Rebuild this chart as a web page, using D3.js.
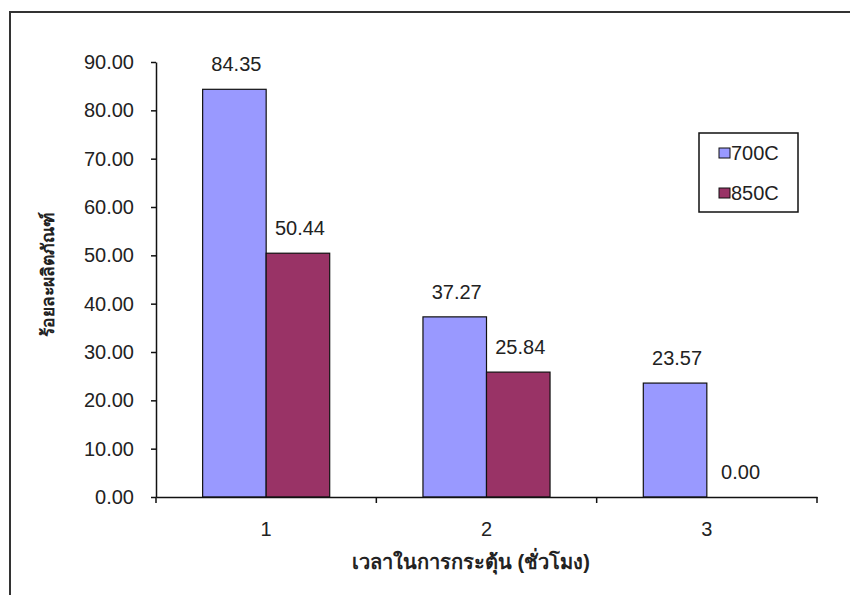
<!DOCTYPE html>
<html>
<head>
<meta charset="utf-8">
<script src="https://cdn.jsdelivr.net/npm/d3@7"></script>
<style>
  html, body { margin: 0; padding: 0; background: #fff; }
  svg { display: block; }
  text { font-family: "Liberation Sans", Arial, sans-serif; fill: #222; }
</style>
</head>
<body>
<svg id="chart" width="850" height="595"></svg>
<script>
// ---- data ----
const categories = ["1", "2", "3"];
const seriesNames = ["700C", "850C"];
const values700 = [84.35, 37.27, 23.57];
const values850 = [50.44, 25.84, 0.00];
const yTicks = [0, 10, 20, 30, 40, 50, 60, 70, 80, 90];
const xTitle = "เวลาในการกระตุ้น (ชั่วโมง)";
const yTitle = "ร้อยละผลิตภัณฑ์";
const colors = ["#9999FF", "#993366"];

const seriesValues = [values700, values850];
const rows = categories.map((c, i) => ({ cat: c, vals: seriesNames.map((s, j) => ({ s, v: seriesValues[j][i] })) }));

const svg = d3.select("#chart");
const plotLeft = 156, plotRight = 817, plotTop = 62, plotBottom = 497;

// outer frame
svg.append("rect").attr("x", 10).attr("y", 12).attr("width", 860).attr("height", 600)
  .attr("fill", "none").attr("stroke", "#333").attr("stroke-width", 2);

const x = d3.scaleBand().domain(categories).range([plotLeft, plotRight]).padding(0);
const xs = d3.scaleBand().domain(seriesNames).range([0, x.bandwidth()]).paddingInner(0).paddingOuter(0.734);
const y = d3.scaleLinear().domain([0, 90]).range([plotBottom, plotTop]);
const color = d3.scaleOrdinal().domain(seriesNames).range(colors);

// bars
const g = svg.append("g");
const groups = g.selectAll("g.grp").data(rows).join("g").attr("class", "grp")
  .attr("transform", d => `translate(${x(d.cat)},0)`);
groups.selectAll("rect").data(d => d.vals).join("rect")
  .attr("x", d => xs(d.s))
  .attr("y", d => y(d.v))
  .attr("width", xs.bandwidth())
  .attr("height", d => y(0) - y(d.v))
  .attr("fill", d => color(d.s))
  .attr("stroke", d => d.v > 0 ? "#111" : "none")
  .attr("stroke-width", 1.2);
groups.selectAll("text.val").data(d => d.vals).join("text").attr("class", "val")
  .attr("x", d => xs(d.s) + xs.bandwidth() / 2 + 2)
  .attr("y", d => y(d.v) - 18)
  .attr("text-anchor", "middle")
  .attr("font-size", 20)
  .text(d => d3.format(".2f")(d.v));

// y axis
const yAxis = d3.axisLeft(y).tickValues(yTicks).tickFormat(d3.format(".2f")).tickSize(5).tickSizeOuter(0).tickPadding(17);
const yg = svg.append("g").attr("transform", `translate(${plotLeft},0)`).call(yAxis);
yg.selectAll("path,line").attr("stroke", "#111").attr("stroke-width", 1.5);
yg.selectAll("text").attr("font-size", 20).attr("font-family", "Liberation Sans, Arial, sans-serif").attr("fill", "#222");

// x axis
const xAxis = d3.axisBottom(x).tickSize(0).tickSizeOuter(0).tickPadding(25);
const xg = svg.append("g").attr("transform", `translate(0,${plotBottom})`).call(xAxis);
xg.selectAll("path").attr("stroke", "#111").attr("stroke-width", 1.5);
xg.selectAll("text").attr("font-size", 20).attr("font-family", "Liberation Sans, Arial, sans-serif").attr("fill", "#222");
const bounds = categories.map(c => x(c)).concat([x(categories[categories.length - 1]) + x.bandwidth()]);
xg.selectAll("line.bound").data(bounds).join("line").attr("class", "bound")
  .attr("x1", d => d).attr("x2", d => d).attr("y1", 0).attr("y2", 6)
  .attr("stroke", "#111").attr("stroke-width", 1.5);

// axis titles
svg.append("text").attr("x", 471).attr("y", 569).attr("text-anchor", "middle")
  .attr("font-size", 20).attr("font-weight", "bold").text(xTitle);
svg.append("text").attr("transform", "translate(54,274) rotate(-90)").attr("text-anchor", "middle")
  .attr("font-size", 17.5).attr("font-weight", "bold").text(yTitle);

// legend
const lg = svg.append("g");
lg.append("rect").attr("x", 699).attr("y", 133).attr("width", 99).attr("height", 79)
  .attr("fill", "#fff").attr("stroke", "#111").attr("stroke-width", 1.5);
const items = lg.selectAll("g.item").data(seriesNames).join("g").attr("class", "item")
  .attr("transform", (d, i) => `translate(719,${153 + i * 40})`);
items.append("rect").attr("x", 0).attr("y", -5).attr("width", 11).attr("height", 10)
  .attr("fill", d => color(d)).attr("stroke", "#111").attr("stroke-width", 1);
items.append("text").attr("x", 12).attr("y", 0).attr("dy", "0.35em").attr("font-size", 20).text(d => d);
</script>
</body>
</html>
